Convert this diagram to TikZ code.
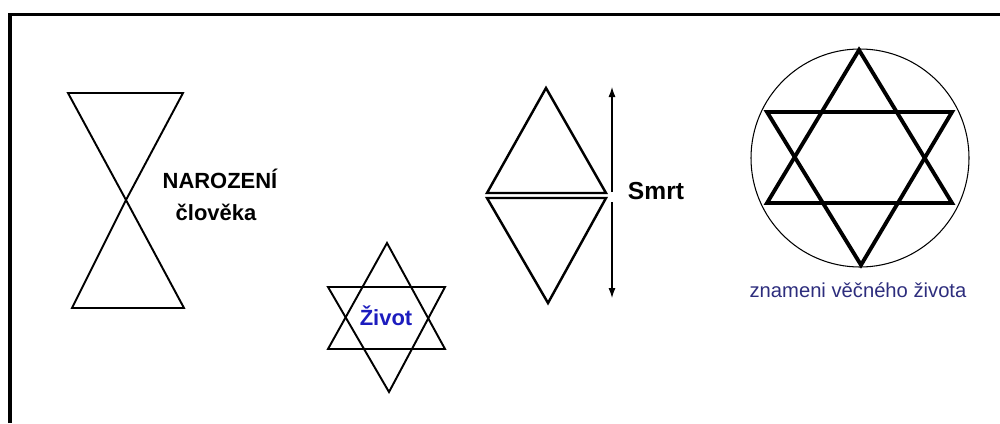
\documentclass[tikz,border=0pt]{standalone}
\usepackage{fontspec}
\setmainfont{Liberation Sans}
\usetikzlibrary{arrows.meta,positioning}
\definecolor{lifeblue}{RGB}{28,28,190}
\definecolor{navytext}{RGB}{45,45,125}

\begin{document}
\begin{tikzpicture}[x=0.02cm,y=-0.02cm,
      thinline/.style={line width=1.1pt,line join=miter},
      boldline/.style={line width=2.2pt,line join=miter},
      arr/.style={line width=0.6pt,-{Latex[length=2mm,width=1.4mm]}},
      heading/.style={inner sep=0pt,anchor=base,
                      font=\bfseries\fontsize{12.5}{14}\selectfont},
      caption/.style={inner sep=0pt,anchor=base,text=navytext,
                      font=\fontsize{11.5}{13}\selectfont}]
    \useasboundingbox (0,0) rectangle (1000,423);
    % frame
    \draw[line width=2.2pt] (10,423) -- (10,14.5) -- (1000,14.5);

    % hourglass
    \draw[thinline] (68,93) -- (183,93) -- (126,200) -- cycle;
    \draw[thinline] (126,200) -- (184,308) -- (72,308) -- cycle;
    \node[heading] (birth) at (220,188) {NAROZENÍ};
    \node[heading] (man) at (216,220) {člověka};

    % small star
    \draw[thinline] (387,243) -- (445,349) -- (328,349) -- cycle;
    \draw[thinline] (328,287) -- (445,287) -- (389,392) -- cycle;
    \node[heading,text=lifeblue] (life) at (386,325) {Život};

    % diamond
    \draw[boldline,line width=1.4pt] (546,88) -- (606,193) -- (487,193) -- cycle;
    \draw[boldline,line width=1.4pt] (487,198) -- (606,198) -- (548,303) -- cycle;
    \coordinate (mid up) at (612,192);
    \coordinate (mid down) at (612,202);
    \coordinate (top) at (612,87);
    \coordinate (bottom) at (612,298);
    \draw[arr] (mid up) -- (top);
    \draw[arr] (mid down) -- (bottom);
    \node[heading,font=\bfseries\fontsize{14}{16}\selectfont] (death) at (656,199) {Smrt};

    % big star in circle
    \draw[line width=0.6pt] (860,158) circle (109);
    \draw[boldline] (859,50) -- (952,203) -- (767,203) -- cycle;
    \draw[boldline] (767,112) -- (952,112) -- (861,265) -- cycle;
    \node[caption] (eternal) at (858,297) {znameni věčného života};
\end{tikzpicture}
\end{document}
